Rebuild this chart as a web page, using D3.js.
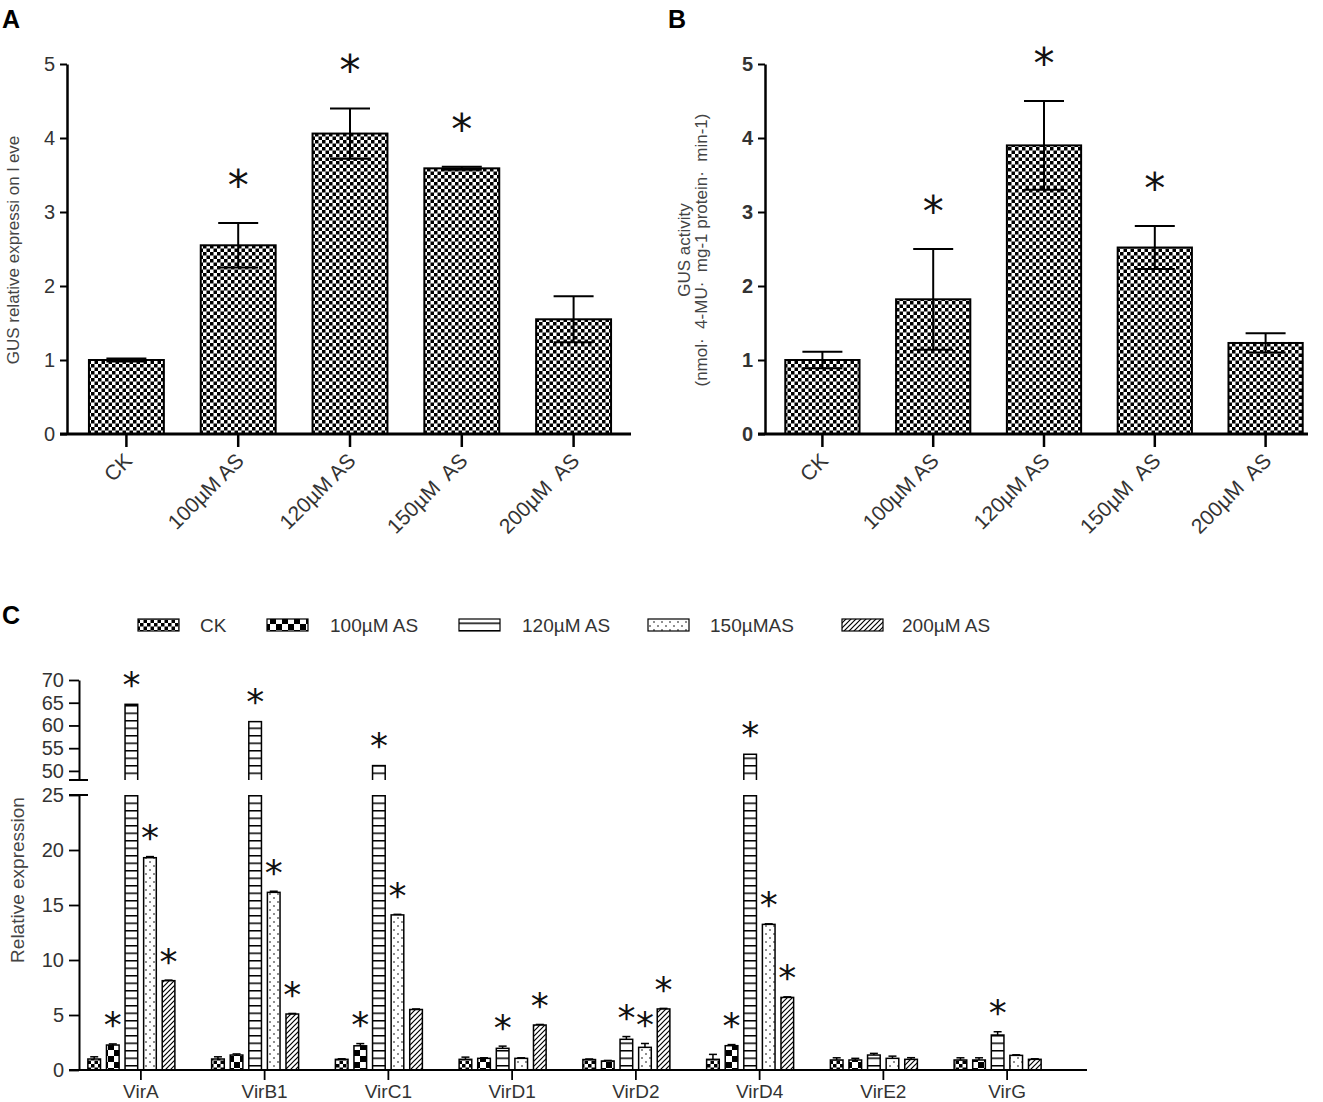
<!DOCTYPE html>
<html>
<head>
<meta charset="utf-8">
<script src="https://cdn.jsdelivr.net/npm/d3@7"></script>
<style>
body { margin: 0; background: #fff; }
svg { display: block; }
text { font-family: "Liberation Sans", Arial, sans-serif; }
</style>
</head>
<body>
<script>
const width = 1323;
const height = 1102;

// Panel A: GUS relative expression level
const doses = ["CK", "100µM AS", "120µM AS", "150µM  AS", "200µM  AS"];
const gusExpr = [1.0, 2.55, 4.06, 3.59, 1.55];
const gusExprErr = [0.02, 0.30, 0.34, 0.02, 0.31];
const gusExprSig = [false, true, true, true, false];

// Panel B: GUS activity
const gusAct = [1.0, 1.82, 3.90, 2.52, 1.23];
const gusActErr = [0.11, 0.68, 0.60, 0.29, 0.13];
const gusActSig = [false, true, true, true, false];

// Panel C: vir gene expression
const genes = ["VirA", "VirB1", "VirC1", "VirD1", "VirD2", "VirD4", "VirE2", "VirG"];
const treatments = ["CK", "100µM AS", "120µM AS", "150µMAS", "200µM AS"];
const ckVals    = [1.0, 1.0, 0.97, 0.97, 0.95, 0.97, 0.91, 0.91];
const as100Vals = [2.27, 1.36, 2.2, 1.06, 0.82, 2.21, 0.91, 0.91];
const as120Vals = [64.65, 60.84, 51.17, 1.97, 2.79, 53.66, 1.36, 3.18];
const as150Vals = [19.3, 16.15, 14.1, 1.06, 2.06, 13.24, 1.06, 1.33];
const as200Vals = [8.12, 5.09, 5.5, 4.09, 5.55, 6.6, 0.97, 0.97];
const ckErr    = [0.2, 0.2, 0.05, 0.2, 0.05, 0.45, 0.2, 0.2];
const as100Err = [0.1, 0.1, 0.2, 0.05, 0.05, 0.1, 0.15, 0.2];
const as120Err = [0.2, 0.2, 0.2, 0.2, 0.25, 0.2, 0.15, 0.3];
const as150Err = [0.1, 0.1, 0.05, 0.05, 0.35, 0.05, 0.2, 0.05];
const as200Err = [0.05, 0.05, 0.05, 0.05, 0.05, 0.05, 0.15, 0.05];
const ckSig    = [0, 0, 0, 0, 0, 0, 0, 0];
const as100Sig = [1, 0, 1, 0, 0, 1, 0, 0];
const as120Sig = [1, 1, 1, 1, 1, 1, 0, 1];
const as150Sig = [1, 1, 1, 0, 1, 1, 0, 0];
const as200Sig = [1, 1, 0, 1, 1, 1, 0, 0];

const cVals = [ckVals, as100Vals, as120Vals, as150Vals, as200Vals];
const cErrs = [ckErr, as100Err, as120Err, as150Err, as200Err];
const cSigs = [ckSig, as100Sig, as120Sig, as150Sig, as200Sig];
const patterns = ["checkFine", "checkBig", "hlines", "dots", "diag"];

const svg = d3.select("body").append("svg")
    .attr("width", width)
    .attr("height", height);

const defs = svg.append("defs");

function pat(id, w, h, draw) {
    const p = defs.append("pattern")
        .attr("id", id)
        .attr("patternUnits", "userSpaceOnUse")
        .attr("width", w)
        .attr("height", h);
    p.append("rect").attr("width", w).attr("height", h).attr("fill", "#fff");
    draw(p);
}
pat("checkFine", 7, 7, p => {
    p.append("rect").attr("x", 0).attr("y", 0).attr("width", 3.5).attr("height", 3.5).attr("fill", "#000");
    p.append("rect").attr("x", 3.5).attr("y", 3.5).attr("width", 3.5).attr("height", 3.5).attr("fill", "#000");
});
pat("checkBig", 12, 12, p => {
    p.append("rect").attr("x", 0).attr("y", 0).attr("width", 6).attr("height", 6).attr("fill", "#000");
    p.append("rect").attr("x", 6).attr("y", 6).attr("width", 6).attr("height", 6).attr("fill", "#000");
});
pat("hlines", 6, 7.5, p => {
    p.append("rect").attr("y", 0).attr("width", 6).attr("height", 1.5).attr("fill", "#000");
});
pat("dots", 8, 8, p => {
    p.append("circle").attr("cx", 2).attr("cy", 2).attr("r", 0.8).attr("fill", "#000");
    p.append("circle").attr("cx", 6).attr("cy", 6).attr("r", 0.8).attr("fill", "#000");
});
pat("diag", 5, 5, p => {
    p.append("path")
        .attr("d", "M-1,1 L1,-1 M0,5 L5,0 M4,6 L6,4")
        .attr("stroke", "#000")
        .attr("stroke-width", 1.2);
});

function star(g, cx, cy, size) {
    g.append("text")
        .attr("x", cx)
        .attr("y", cy + size * 0.57)
        .attr("text-anchor", "middle")
        .style("font-family", "'DejaVu Sans', sans-serif")
        .style("font-size", size + "px")
        .attr("fill", "#111")
        .text("*");
}

// panels A and B
function drawPanel(cfg) {
    const g = svg.append("g");
    const x = d3.scaleBand().domain(doses).range(cfg.band).paddingInner(0.33).paddingOuter(0.165);
    const y = d3.scaleLinear().domain([0, 5]).range([434, 64]);

    g.selectAll("rect.bar")
        .data(cfg.values)
        .enter().append("rect")
        .attr("class", "bar")
        .attr("x", (d, i) => x(doses[i]))
        .attr("y", d => y(d))
        .attr("width", x.bandwidth())
        .attr("height", d => y(0) - y(d))
        .attr("fill", "url(#checkFine)")
        .attr("stroke", "#000")
        .attr("stroke-width", 2);

    // error bars
    cfg.values.forEach((v, i) => {
        const cx = x(doses[i]) + x.bandwidth() / 2;
        const e = cfg.errs[i];
        const eb = g.append("g").attr("stroke", "#000").attr("stroke-width", 2);
        eb.append("line").attr("x1", cx).attr("x2", cx).attr("y1", y(v - e)).attr("y2", y(v + e));
        eb.append("line").attr("x1", cx - 20).attr("x2", cx + 20).attr("y1", y(v + e)).attr("y2", y(v + e));
        eb.append("line").attr("x1", cx - 20).attr("x2", cx + 20).attr("y1", y(v - e)).attr("y2", y(v - e));
        if (cfg.sig[i]) star(g, cx, y(v + e) - 47, 42);
    });

    // y axis
    const ya = g.append("g")
        .attr("transform", `translate(${cfg.axisX},0)`)
        .call(d3.axisLeft(y).ticks(5).tickSize(7).tickSizeOuter(0).tickPadding(5));
    ya.select(".domain").attr("stroke-width", 2.5);
    ya.selectAll(".tick line").attr("stroke-width", 2);
    ya.selectAll(".tick text")
        .style("font-size", "20px")
        .style("font-weight", cfg.bold ? "bold" : "normal")
        .attr("fill", "#333");

    // x axis
    g.append("line")
        .attr("x1", cfg.axisX - 7).attr("x2", cfg.axisEnd)
        .attr("y1", y(0)).attr("y2", y(0))
        .attr("stroke", "#000").attr("stroke-width", 3);
    doses.forEach(d => {
        const cx = x(d) + x.bandwidth() / 2;
        g.append("line")
            .attr("x1", cx).attr("x2", cx)
            .attr("y1", y(0)).attr("y2", y(0) + 13)
            .attr("stroke", "#000").attr("stroke-width", 2.5);
        g.append("text")
            .attr("transform", `translate(${cx + 7},${y(0) + 28}) rotate(-45)`)
            .attr("text-anchor", "end")
            .style("font-size", "21px")
            .attr("fill", "#333")
            .style("white-space", "pre")
            .text(d);
    });

    cfg.ylabel.forEach((t, k) => {
        g.append("text")
            .attr("transform", `translate(${cfg.ylabelX + k * 17},250) rotate(-90)`)
            .attr("text-anchor", "middle")
            .style("font-size", "17px")
            .attr("fill", "#444")
            .style("white-space", "pre")
            .text(t);
    });

    svg.append("text")
        .attr("x", cfg.letterX).attr("y", 28)
        .style("font-size", "25px").style("font-weight", "bold")
        .text(cfg.letter);
}

drawPanel({
    values: gusExpr, errs: gusExprErr, sig: gusExprSig,
    band: [70.5, 629.5], axisX: 67, axisEnd: 631, bold: false,
    ylabel: ["GUS relative expressi on l eve"], ylabelX: 19,
    letter: "A", letterX: 2
});
drawPanel({
    values: gusAct, errs: gusActErr, sig: gusActSig,
    band: [767, 1321], axisX: 765, axisEnd: 1308, bold: true,
    ylabel: ["GUS activity", "(nmol·  4-MU·  mg-1 protein·  min-1)"], ylabelX: 690,
    letter: "B", letterX: 668
});

// panel C
const gc = svg.append("g");
const yLow = d3.scaleLinear().domain([0, 25]).range([1070, 795]);
const yHigh = d3.scaleLinear().domain([48, 70]).range([780, 680]);
const x0 = d3.scaleBand().domain(genes).range([79, 1069]);
const x1 = d3.scaleBand().domain(treatments).range([-53, 34]).paddingInner(0.32);
const axisC = 79;

defs.append("clipPath").attr("id", "clipLow")
    .append("rect").attr("x", 0).attr("y", yLow(25)).attr("width", width).attr("height", 300);
defs.append("clipPath").attr("id", "clipHigh")
    .append("rect").attr("x", 0).attr("y", 0).attr("width", width).attr("height", yHigh(48));

const lowG = gc.append("g").attr("clip-path", "url(#clipLow)");
const highG = gc.append("g").attr("clip-path", "url(#clipHigh)");
const markG = gc.append("g");

genes.forEach((gene, gi) => {
    const center = x0(gene) + x0.bandwidth() / 2;
    treatments.forEach((t, ti) => {
        const v = cVals[ti][gi];
        const e = cErrs[ti][gi];
        const bx = center + x1(t);
        const w = x1.bandwidth();
        const fill = `url(#${patterns[ti]})`;
        let topY;
        if (v <= 25) {
            lowG.append("rect")
                .attr("x", bx).attr("y", yLow(v))
                .attr("width", w).attr("height", yLow(0) - yLow(v))
                .attr("fill", fill).attr("stroke", "#000").attr("stroke-width", 1.5);
            const eb = markG.append("g").attr("stroke", "#000").attr("stroke-width", 1.5);
            eb.append("line").attr("x1", bx + w / 2).attr("x2", bx + w / 2).attr("y1", yLow(v)).attr("y2", yLow(v + e));
            eb.append("line").attr("x1", bx + w / 2 - 4).attr("x2", bx + w / 2 + 4).attr("y1", yLow(v + e)).attr("y2", yLow(v + e));
            topY = yLow(v + e);
        } else {
            lowG.append("rect")
                .attr("x", bx).attr("y", yLow(25) - 6)
                .attr("width", w).attr("height", yLow(0) - yLow(25) + 6)
                .attr("fill", fill).attr("stroke", "#000").attr("stroke-width", 1.5);
            highG.append("rect")
                .attr("x", bx).attr("y", yHigh(v))
                .attr("width", w).attr("height", yHigh(48) + 6 - yHigh(v))
                .attr("fill", fill).attr("stroke", "#000").attr("stroke-width", 1.5);
            topY = yHigh(v + e);
        }
        if (cSigs[ti][gi]) star(markG, bx + w / 2, topY - 27, 36);
    });
});

// y axes (broken)
const yaLow = gc.append("g")
    .attr("transform", `translate(${axisC},0)`)
    .call(d3.axisLeft(yLow).tickValues([0, 5, 10, 15, 20, 25]).tickSize(10).tickSizeOuter(0).tickPadding(5));
const yaHigh = gc.append("g")
    .attr("transform", `translate(${axisC},0)`)
    .call(d3.axisLeft(yHigh).tickValues([50, 55, 60, 65, 70]).tickSize(10).tickSizeOuter(0).tickPadding(5));
[yaLow, yaHigh].forEach(a => {
    a.select(".domain").attr("stroke-width", 2);
    a.selectAll(".tick line").attr("stroke-width", 1.8);
    a.selectAll(".tick text").style("font-size", "20px").attr("fill", "#333");
});
[yLow(25), yHigh(48)].forEach(yy => {
    gc.append("line")
        .attr("x1", axisC - 10).attr("x2", axisC + 9)
        .attr("y1", yy).attr("y2", yy)
        .attr("stroke", "#000").attr("stroke-width", 2);
});

// x axis
gc.append("line")
    .attr("x1", axisC - 10).attr("x2", 1087)
    .attr("y1", yLow(0)).attr("y2", yLow(0))
    .attr("stroke", "#000").attr("stroke-width", 1.8);
genes.forEach(gene => {
    const cx = x0(gene) + x0.bandwidth() / 2;
    gc.append("line")
        .attr("x1", cx).attr("x2", cx)
        .attr("y1", yLow(0)).attr("y2", yLow(0) + 10)
        .attr("stroke", "#000").attr("stroke-width", 1.8);
    gc.append("text")
        .attr("x", cx).attr("y", 1098)
        .attr("text-anchor", "middle")
        .style("font-size", "19px")
        .attr("fill", "#333")
        .text(gene);
});

gc.append("text")
    .attr("transform", "translate(24,880) rotate(-90)")
    .attr("text-anchor", "middle")
    .style("font-size", "19px")
    .attr("fill", "#444")
    .text("Relative expression");

// legend
const legendSwatchX = [138, 267, 459, 648, 842];
const legendTextX = [200, 330, 522, 710, 902];
treatments.forEach((t, i) => {
    gc.append("rect")
        .attr("x", legendSwatchX[i]).attr("y", 619)
        .attr("width", 41).attr("height", 12)
        .attr("fill", `url(#${patterns[i]})`)
        .attr("stroke", "#000").attr("stroke-width", 1.2);
    gc.append("text")
        .attr("x", legendTextX[i]).attr("y", 632)
        .style("font-size", "19px")
        .attr("fill", "#333")
        .text(t);
});

svg.append("text")
    .attr("x", 2).attr("y", 624)
    .style("font-size", "25px").style("font-weight", "bold")
    .text("C");
</script>
</body>
</html>
